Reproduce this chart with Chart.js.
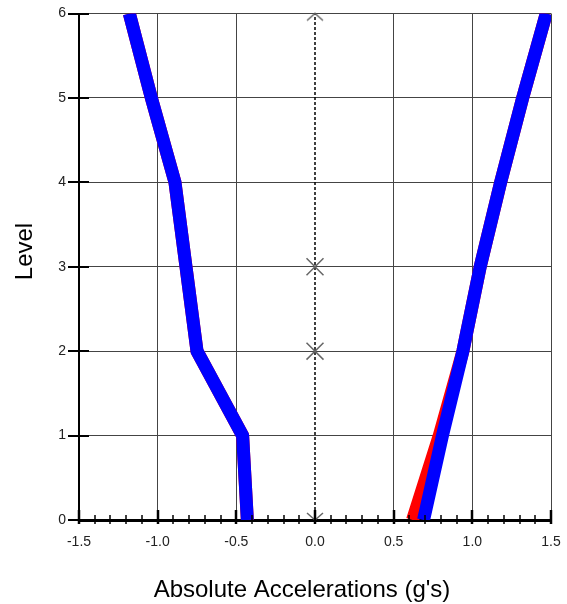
<!DOCTYPE html>
<html>
<head>
<meta charset="utf-8">
<script src="https://cdn.jsdelivr.net/npm/chart.js@4/dist/chart.umd.min.js"></script>
<style>
  html, body { margin: 0; padding: 0; background: #fff; }
  #wrap { width: 567px; height: 604px; }
</style>
</head>
<body>
<div id="wrap"><canvas id="chart" width="567" height="604"></canvas></div>
<script>
const levels = [0, 1, 2, 3, 4, 5, 6];
const redMin = [-0.43, -0.46, -0.75, -0.82, -0.89, -1.04, -1.18];
const redMax = [0.62, 0.79, 0.94, 1.05, 1.18, 1.32, 1.47];
const blueMin = [-0.43, -0.46, -0.75, -0.82, -0.89, -1.04, -1.18];
const blueMax = [0.69, 0.81, 0.94, 1.05, 1.18, 1.32, 1.47];
const refLevels = [0, 2, 3, 6];
const refAccel = [0, 0, 0, 0];
const xTicks = [-1.5, -1.0, -0.5, 0.0, 0.5, 1.0, 1.5];
const xTitle = "Absolute Accelerations (g's)";
const yTitle = 'Level';

function pts(xs, ys) {
  return xs.map((x, i) => ({ x: x, y: ys[i] }));
}

function arrowHead(up) {
  const c = document.createElement('canvas');
  c.width = 24; c.height = 24;
  const g = c.getContext('2d');
  g.strokeStyle = '#666';
  g.lineWidth = 1.5;
  g.beginPath();
  if (up) {
    g.moveTo(4, 19); g.lineTo(12, 12); g.lineTo(20, 19);
  } else {
    g.moveTo(4, 5); g.lineTo(12, 12); g.lineTo(20, 5);
  }
  g.stroke();
  return c;
}

// tick marks that cross the axes, plus the two axis titles
const axisExtras = {
  id: 'axisExtras',
  afterDatasetsDraw(chart) {
    const g = chart.ctx;
    const xs = chart.scales.x, ys = chart.scales.y;
    const area = chart.chartArea;
    g.save();
    g.strokeStyle = '#000';
    for (let i = -15; i <= 15; i++) {
      const px = Math.round(xs.getPixelForValue(i / 10));
      const major = i % 5 === 0;
      g.lineWidth = major ? 2.5 : 1.5;
      g.beginPath();
      g.moveTo(px, area.bottom + 4);
      g.lineTo(px, area.bottom - (major ? 10 : 5));
      g.stroke();
    }
    g.lineWidth = 2;
    levels.forEach(v => {
      const py = Math.round(ys.getPixelForValue(v));
      g.beginPath();
      g.moveTo(area.left - 11, py);
      g.lineTo(area.left + 10, py);
      g.stroke();
    });

    g.fillStyle = '#000';
    g.font = '24px "Liberation Sans"';
    g.textAlign = 'center';
    g.textBaseline = 'alphabetic';
    g.fillText(xTitle, area.left + 223, area.bottom + 77);
    g.translate(area.left - 47, area.top + 238);
    g.rotate(-Math.PI / 2);
    g.fillText(yTitle, 0, 0);
    g.restore();
  }
};

const data = {
  datasets: [
    { data: pts(redMin, levels), borderColor: '#ff0000', order: 2 },
    { data: pts(redMax, levels), borderColor: '#ff0000', order: 2 },
    { data: pts(blueMin, levels), borderColor: '#0000ff', order: 1 },
    { data: pts(blueMax, levels), borderColor: '#0000ff', order: 1 },
    {
      data: pts(refAccel, refLevels),
      borderColor: '#000',
      borderWidth: 1.5,
      borderDash: [3, 2],
      pointStyle: [arrowHead(false), 'crossRot', 'crossRot', arrowHead(true)],
      pointRadius: 12,
      pointBorderColor: '#666',
      pointBorderWidth: 1.5,
      clip: false,
      order: 0
    }
  ]
};

new Chart(document.getElementById('chart'), {
  type: 'scatter',
  data: data,
  options: {
    responsive: false,
    animation: false,
    layout: { padding: { left: 0, right: 16, top: 12, bottom: 0 } },
    datasets: {
      scatter: {
        showLine: true,
        borderWidth: 13,
        pointRadius: 0,
        clip: 0,
        borderCapStyle: 'butt',
        borderJoinStyle: 'round'
      }
    },
    plugins: { legend: { display: false }, tooltip: { enabled: false } },
    scales: {
      x: {
        type: 'linear',
        min: -1.5,
        max: 1.5,
        afterBuildTicks(scale) { scale.ticks = xTicks.map(v => ({ value: v })); },
        afterFit(scale) {
          scale.height = 84;
          scale.paddingLeft = 0;
          scale.paddingRight = 0;
        },
        ticks: {
          padding: 14,
          color: '#222',
          font: { family: 'Liberation Sans', size: 14 },
          callback: v => v.toFixed(1)
        },
        grid: {
          drawTicks: false,
          color: c => (c.tick && c.tick.value === 0 ? 'rgba(0,0,0,0)' : '#444'),
          lineWidth: 1
        },
        border: { color: '#000', width: 3 }
      },
      y: {
        type: 'linear',
        min: 0,
        max: 6,
        afterBuildTicks(scale) { scale.ticks = levels.map(v => ({ value: v })); },
        afterFit(scale) {
          scale.width = 79;
          scale.paddingTop = 0;
          scale.paddingBottom = 0;
        },
        ticks: {
          padding: 13,
          color: '#222',
          font: { family: 'Liberation Sans', size: 14 }
        },
        grid: { drawTicks: false, color: '#444', lineWidth: 1 },
        border: { color: '#000', width: 2 }
      }
    }
  },
  plugins: [axisExtras]
});
</script>
</body>
</html>
